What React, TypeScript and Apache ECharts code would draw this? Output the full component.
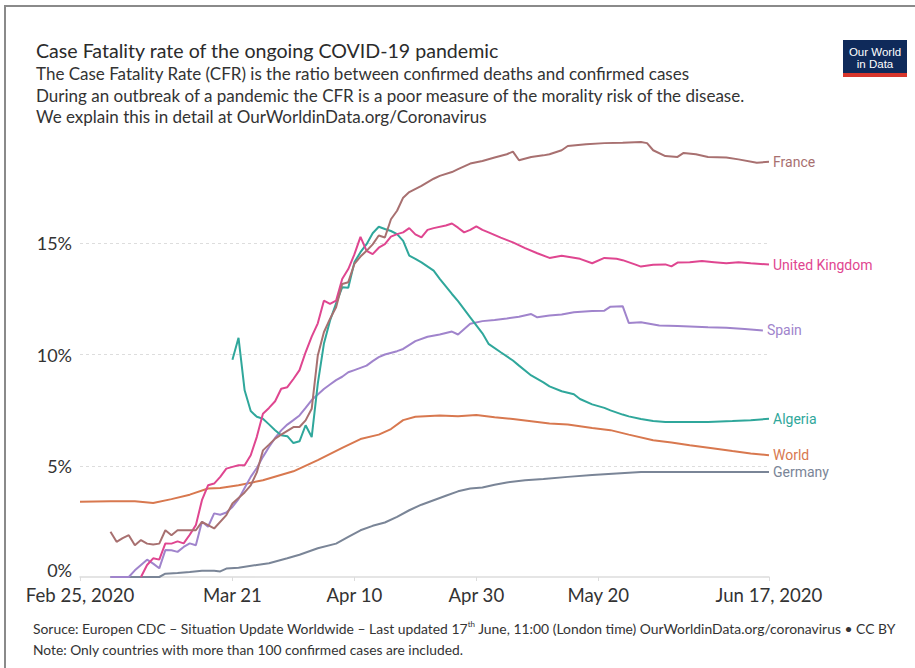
import React, { useEffect, useRef } from "react";
import * as echarts from "echarts";

// Day 0 = Feb 25, 2020 ; day 113 = Jun 17, 2020
const START = new Date(Date.UTC(2020, 1, 25));
const DAY_COUNT = 114;
const MONTHS = ["Jan", "Feb", "Mar", "Apr", "May", "Jun", "Jul", "Aug", "Sep", "Oct", "Nov", "Dec"];
const categories: string[] = [];
for (let i = 0; i < DAY_COUNT; i++) {
  const d = new Date(START.getTime() + i * 86400000);
  categories.push(MONTHS[d.getUTCMonth()] + " " + d.getUTCDate());
}

const tickIndex = [0, 25, 45, 65, 85, 113];
const tickLabels = ["Feb 25, 2020", "Mar 21", "Apr 10", "Apr 30", "May 20", "Jun 17, 2020"];

const yTicks = [0, 5, 10, 15];

const world: [number, number][] = [
  [0, 3.38], [5, 3.4], [9, 3.4], [12, 3.33], [15, 3.5], [18, 3.7], [21, 3.98], [23, 4.0], [26, 4.12],
  [30, 4.35], [35, 4.75], [39, 5.25], [43, 5.8], [46, 6.2], [49, 6.4], [51, 6.65], [53, 7.05], [55, 7.2],
  [59, 7.26], [62, 7.22], [65, 7.28], [68, 7.18], [71, 7.1], [74, 7.0], [77, 6.9], [80, 6.85], [84, 6.7],
  [87, 6.6], [90, 6.4], [94, 6.15], [97, 6.05], [100, 5.92], [104, 5.78], [107, 5.66], [110, 5.55], [113, 5.47],
];

const germany: [number, number][] = [
  [5, 0], [8, 0], [13, 0], [14, 0.15], [16, 0.18], [18, 0.22], [20, 0.28], [22, 0.28], [23, 0.25],
  [24, 0.38], [26, 0.42], [29, 0.54], [31, 0.62], [34, 0.84], [36, 1.0], [39, 1.29], [42, 1.5], [44, 1.8],
  [46, 2.1], [48, 2.3], [50, 2.45], [52, 2.7], [54, 3.0], [56, 3.25], [58, 3.45], [60, 3.65], [62, 3.85],
  [64, 3.98], [66, 4.02], [68, 4.15], [70, 4.25], [73, 4.35], [76, 4.4], [80, 4.5], [84, 4.58], [88, 4.65],
  [92, 4.72], [100, 4.72], [106, 4.72], [113, 4.72],
];

const france: [number, number][] = [
  [5, 2.03], [6, 1.58], [7, 1.75], [8, 1.88], [9, 1.43], [10, 1.66], [11, 1.5], [12, 1.46], [13, 1.5],
  [14, 2.1], [15, 1.88], [16, 2.1], [17, 2.1], [19, 2.1], [20, 2.48], [21, 2.33], [22, 2.18], [24, 2.78],
  [25, 3.3], [27, 3.8], [28, 4.12], [29, 4.7], [30, 5.69], [31, 5.95], [32, 6.22], [33, 6.4], [35, 6.74],
  [36, 6.74], [37, 7.04], [38, 7.56], [39, 9.96], [40, 11.0], [41, 11.6], [42, 12.12], [43, 13.17],
  [44, 13.25], [45, 14.07], [46, 14.4], [47, 14.66], [48, 14.95], [49, 15.35], [50, 15.26], [51, 16.08],
  [52, 16.46], [53, 17.05], [54, 17.3], [56, 17.58], [58, 17.9], [59, 18.03], [61, 18.2], [62, 18.33],
  [64, 18.58], [66, 18.7], [68, 18.85], [70, 19.0], [71, 19.12], [72, 18.73], [74, 18.88], [76, 18.95],
  [77, 19.0], [79, 19.18], [80, 19.37], [83, 19.45], [86, 19.5], [89, 19.52], [92, 19.55], [93, 19.5],
  [94, 19.18], [96, 18.92], [98, 18.88], [99, 19.06], [101, 19.0], [103, 18.88], [106, 18.85], [108, 18.77],
  [111, 18.62], [113, 18.66],
];

const uk: [number, number][] = [
  [10, 0], [11, 0.54], [12, 0.84], [13, 0.78], [14, 1.51], [15, 1.5], [16, 1.6], [17, 1.51], [18, 1.9],
  [19, 2.33], [20, 3.45], [21, 4.12], [22, 4.2], [23, 4.5], [24, 4.87], [25, 4.95], [26, 5.02], [27, 5.02],
  [28, 5.47], [29, 6.3], [30, 7.34], [31, 7.6], [32, 7.9], [33, 8.46], [34, 8.53], [35, 8.9], [36, 9.3],
  [37, 10.1], [38, 10.8], [39, 11.4], [40, 12.42], [41, 12.27], [42, 12.42], [43, 13.39], [44, 13.84],
  [45, 14.5], [46, 15.29], [47, 14.66], [48, 14.51], [49, 14.8], [50, 14.96], [51, 15.3], [52, 15.41],
  [53, 15.49], [54, 15.68], [55, 15.4], [56, 15.26], [57, 15.6], [58, 15.68], [60, 15.8], [61, 15.89],
  [62, 15.7], [63, 15.49], [64, 15.6], [65, 15.76], [66, 15.6], [67, 15.49], [69, 15.25], [71, 15.04],
  [73, 14.78], [75, 14.55], [77, 14.34], [79, 14.44], [81, 14.35], [82, 14.3], [84, 14.1], [86, 14.34],
  [88, 14.3], [89, 14.24], [91, 14.05], [92, 13.95], [94, 14.03], [96, 14.05], [97, 13.96], [98, 14.13],
  [100, 14.15], [102, 14.2], [104, 14.15], [106, 14.1], [108, 14.15], [110, 14.1], [113, 14.04],
];

const spain: [number, number][] = [
  [5, 0], [8, 0], [9, 0.3], [10, 0.54], [11, 0.78], [12, 0.6], [13, 0.39], [14, 1.21], [15, 1.2],
  [16, 1.13], [17, 1.35], [18, 1.51], [19, 1.43], [20, 2.48], [21, 2.26], [22, 2.86], [23, 2.8], [24, 2.9],
  [25, 3.15], [26, 3.5], [27, 4.0], [28, 4.5], [29, 4.9], [30, 5.4], [31, 5.84], [32, 6.25], [33, 6.59],
  [34, 6.85], [35, 7.05], [36, 7.26], [37, 7.6], [38, 7.95], [39, 8.2], [40, 8.45], [41, 8.65], [42, 8.85],
  [43, 9.0], [44, 9.2], [45, 9.3], [46, 9.4], [47, 9.5], [48, 9.7], [49, 9.88], [50, 10.0], [52, 10.15],
  [53, 10.25], [55, 10.6], [57, 10.8], [59, 10.9], [61, 11.03], [62, 10.9], [64, 11.38], [66, 11.5],
  [68, 11.55], [70, 11.62], [72, 11.7], [74, 11.82], [75, 11.67], [77, 11.75], [79, 11.8], [81, 11.9],
  [84, 11.95], [86, 11.97], [87, 12.15], [89, 12.17], [90, 11.42], [92, 11.45], [95, 11.3], [98, 11.28],
  [100, 11.26], [103, 11.22], [106, 11.2], [109, 11.15], [112, 11.08],
];

const algeria: [number, number][] = [
  [25, 9.76], [26, 10.75], [27, 8.39], [28, 7.46], [29, 7.2], [30, 7.11], [31, 6.86], [32, 6.6], [33, 6.37],
  [34, 6.33], [35, 6.02], [36, 6.1], [37, 6.82], [38, 6.29], [39, 8.69], [40, 10.48], [41, 11.52], [42, 12.3],
  [43, 13.02], [44, 13.0], [45, 14.14], [46, 14.6], [47, 14.96], [48, 15.45], [49, 15.74], [50, 15.64],
  [51, 15.55], [52, 15.41], [53, 15.11], [54, 14.44], [55, 14.3], [56, 14.14], [58, 13.77], [59, 13.4],
  [61, 12.72], [62, 12.4], [64, 11.67], [66, 10.95], [67, 10.48], [69, 10.1], [71, 9.73], [72, 9.5],
  [74, 9.06], [76, 8.75], [77, 8.57], [79, 8.35], [81, 8.21], [82, 8.0], [84, 7.76], [86, 7.6], [87, 7.49],
  [89, 7.3], [90, 7.22], [92, 7.1], [94, 7.01], [96, 6.97], [100, 6.97], [103, 6.97], [107, 7.01],
  [110, 7.05], [113, 7.11],
];

const seriesNames = ["World", "Germany", "Spain", "Algeria", "United Kingdom", "France"];
const seriesData = [world, germany, spain, algeria, uk, france];
const seriesColors = ["#d8784f", "#7a8597", "#a084cc", "#2fa79b", "#df4690", "#a87070"];

const FONT = "Lato, 'Open Sans', sans-serif";

export default function App() {
  const ref = useRef<HTMLDivElement>(null);
  useEffect(() => {
    if (!ref.current) return;
    const chart = echarts.init(ref.current, undefined, { renderer: "svg" });
    const option: any = {
      animation: false,
      backgroundColor: "#ffffff",
      grid: { left: 80, right: 146, top: 132, bottom: 91, containLabel: false },
      xAxis: {
        type: "category",
        data: categories,
        boundaryGap: false,
        axisLine: { show: true, lineStyle: { color: "#dcdcdc", width: 1.5 } },
        axisTick: {
          show: true,
          interval: (i: number) => tickIndex.includes(i),
          length: 4,
          lineStyle: { color: "#dcdcdc" },
        },
        axisLabel: {
          interval: (i: number) => tickIndex.includes(i),
          formatter: (_v: string, i: number) => {
            const k = tickIndex.indexOf(i);
            return k >= 0 ? tickLabels[k] : "";
          },
          color: "#333333",
          fontSize: 18.6,
          fontFamily: FONT,
          margin: 8,
        },
        splitLine: { show: false },
      },
      yAxis: {
        type: "value",
        min: 0,
        max: 20,
        interval: 5,
        axisLine: { show: false },
        axisTick: { show: false },
        axisLabel: {
          formatter: (v: number) => {
            if (!yTicks.includes(v)) return "";
            return v === 0 ? "{z|0%}" : v + "%";
          },
          rich: { z: { fontSize: 18, fontFamily: FONT, color: "#333333", padding: [0, 0, 14, 0] } },
          color: "#333333",
          fontSize: 18,
          fontFamily: FONT,
          margin: 8,
        },
        splitLine: {
          show: true,
          showMinLine: false,
          showMaxLine: false,
          lineStyle: { color: "#dddddd", type: [3, 3], width: 1 },
        },
      },
      series: seriesNames.map((name, i) => ({
        name,
        type: "line",
        data: seriesData[i],
        showSymbol: false,
        symbol: "none",
        lineStyle: { color: seriesColors[i], width: 2 },
        itemStyle: { color: seriesColors[i] },
        endLabel: {
          show: true,
          formatter: "{a}",
          color: seriesColors[i],
          fontFamily: "Roboto, sans-serif",
          fontSize: 14,
          distance: 4,
        },
        z: 2 + i,
      })),
      graphic: [
        {
          type: "rect",
          shape: { x: 5, y: 6, width: 1000, height: 1000 },
          style: { fill: "none", stroke: "#8a8a8a", lineWidth: 2 },
          silent: true,
        },
        {
          type: "text",
          style: {
            text: "Case Fatality rate of the ongoing COVID-19 pandemic",
            x: 36, y: 50, fill: "#2b2b2b", fontSize: 19.6, fontFamily: FONT,
            align: "left", verticalAlign: "middle",
          },
        },
        {
          type: "text",
          style: {
            text: "The Case Fatality Rate (CFR) is the ratio between confirmed deaths and confirmed cases",
            x: 36, y: 73, fill: "#333333", fontSize: 17, fontFamily: FONT,
            align: "left", verticalAlign: "middle",
          },
        },
        {
          type: "text",
          style: {
            text: "During an outbreak of a pandemic the CFR is a poor measure of the morality risk of the disease.",
            x: 36, y: 95, fill: "#333333", fontSize: 17, fontFamily: FONT,
            align: "left", verticalAlign: "middle",
          },
        },
        {
          type: "text",
          style: {
            text: "We explain this in detail at OurWorldinData.org/Coronavirus",
            x: 36, y: 116, fill: "#333333", fontSize: 17, fontFamily: FONT,
            align: "left", verticalAlign: "middle",
          },
        },
        {
          type: "rect",
          shape: { x: 843, y: 40, width: 64, height: 37 },
          style: { fill: "#0f2a5a" },
        },
        {
          type: "rect",
          shape: { x: 843, y: 73, width: 64, height: 4 },
          style: { fill: "#d7362c" },
        },
        {
          type: "text",
          style: {
            text: "Our World", x: 875, y: 52, fill: "#ffffff", fontSize: 11.5,
            fontFamily: "'Liberation Sans', Arial, sans-serif", align: "center", verticalAlign: "middle",
          },
        },
        {
          type: "text",
          style: {
            text: "in Data", x: 875, y: 64, fill: "#ffffff", fontSize: 11.5,
            fontFamily: "'Liberation Sans', Arial, sans-serif", align: "center", verticalAlign: "middle",
          },
        },
        {
          type: "text",
          style: {
            text: "Soruce: Europen CDC – Situation Update Worldwide – Last updated 17{sup|th} June, 11:00 (London time) OurWorldinData.org/coronavirus • CC BY",
            x: 33, y: 628, fill: "#333333", fontSize: 13.9, fontFamily: FONT,
            align: "left", verticalAlign: "middle",
            rich: { sup: { fontSize: 8, fontFamily: FONT, fill: "#333333", verticalAlign: "top", lineHeight: 17 } },
          },
        },
        {
          type: "text",
          style: {
            text: "Note: Only countries with more than 100 confirmed cases are included.",
            x: 33, y: 649, fill: "#333333", fontSize: 13.8, fontFamily: FONT,
            align: "left", verticalAlign: "middle",
          },
        },
      ],
    };
    chart.setOption(option);
    return () => chart.dispose();
  }, []);
  return (
    <div
      ref={ref}
      style={{ position: "fixed", left: 0, top: 0, width: 915, height: 668, background: "#fff" }}
    />
  );
}
